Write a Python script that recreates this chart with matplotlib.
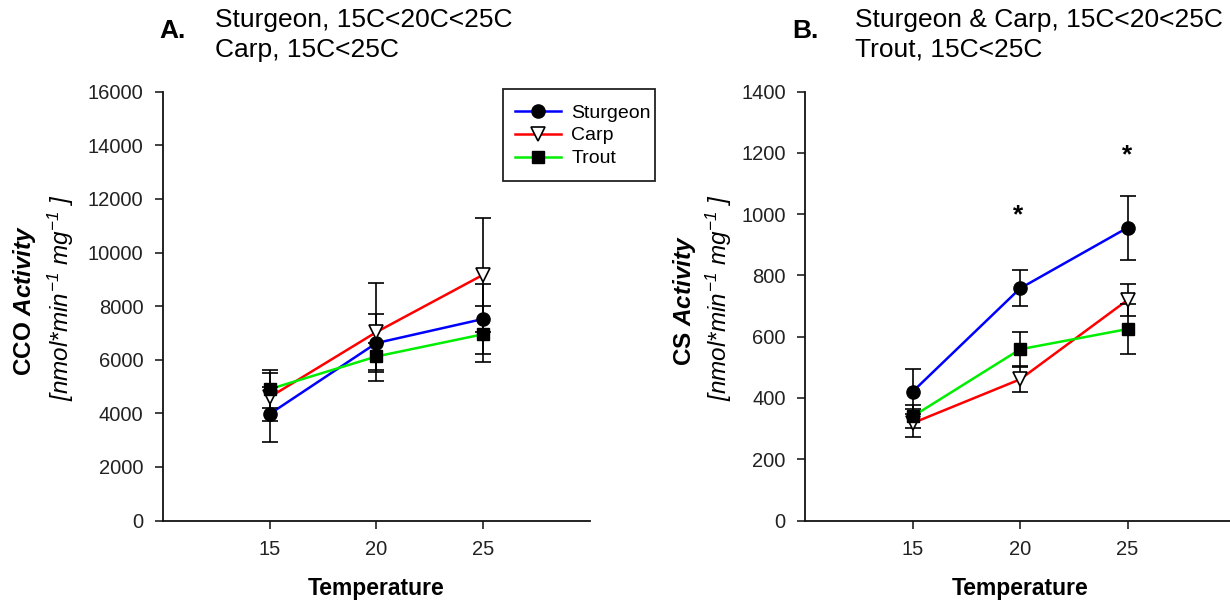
import matplotlib
matplotlib.use("Agg")
import matplotlib.pyplot as plt
from matplotlib.lines import Line2D
from matplotlib.patches import Rectangle

plt.rcParams['font.family'] = ['Liberation Sans', 'DejaVu Sans']
plt.rcParams['mathtext.fontset'] = 'custom'
plt.rcParams['mathtext.rm'] = 'Liberation Sans:italic'
plt.rcParams['mathtext.it'] = 'Liberation Sans:italic'
plt.rcParams['mathtext.bf'] = 'Liberation Sans:bold'
plt.rcParams['mathtext.bfit'] = 'Liberation Sans:italic:bold'

temperature = [15, 20, 25]
species = ['Sturgeon', 'Carp', 'Trout']

# CCO activity (mean, SE)
cco_sturgeon = [3970, 6620, 7520]
cco_sturgeon_err = [1030, 1080, 1300]
cco_carp = [4600, 7030, 9170]
cco_carp_err = [900, 1830, 2130]
cco_trout = [4900, 6120, 6950]
cco_trout_err = [700, 500, 1040]

# CS activity (mean, SE)
cs_sturgeon = [421, 758, 956]
cs_sturgeon_err = [73, 59, 105]
cs_carp = [318, 461, 720]
cs_carp_err = [47, 42, 53]
cs_trout = [340, 559, 625]
cs_trout_err = [38, 57, 81]

# significance markers on panel B
star_x = [19.9, 25]
star_y = [997, 1193]

colors = {'Sturgeon': '#0000ff', 'Carp': '#ff0000', 'Trout': '#00ee00'}
markers = {'Sturgeon': dict(marker='o', ms=9.5, mfc='black', mec='black'),
           'Carp': dict(marker='v', ms=10, mfc='white', mec='black', mew=1.2),
           'Trout': dict(marker='s', ms=9, mfc='black', mec='black')}

fig = plt.figure(figsize=(12.3, 6.04), dpi=100)
W, H = 1230.0, 604.0


def style_axes(ax, ymax, ystep):
    ax.set_xlim(10, 30)
    ax.set_ylim(0, ymax)
    ax.set_xticks(temperature)
    ax.set_yticks(range(0, ymax + 1, ystep))
    for s in ('top', 'right'):
        ax.spines[s].set_visible(False)
    for s in ('left', 'bottom'):
        ax.spines[s].set_linewidth(1.3)
        ax.spines[s].set_color('#111111')
    ax.tick_params(direction='out', length=6, width=1.3, color='#333333',
                   labelsize=14.5, labelcolor='#222222', pad=8)
    ax.set_xlabel('Temperature', fontsize=16.5, fontweight='bold', labelpad=13)


def draw_series(ax, data):
    for name, (vals, errs) in zip(species, data):
        ax.errorbar(temperature, vals, yerr=errs, fmt='none', ecolor='black',
                    elinewidth=1.2, capsize=6, capthick=1.2, zorder=3)
    for name, (vals, errs) in zip(species, data):
        ax.plot(temperature, vals, color=colors[name], lw=1.8, zorder=2)
        ax.plot(temperature, vals, ls='none', zorder=4, **markers[name])


axA = fig.add_axes([162.7 / W, (H - 520.5) / H, (590 - 162.7) / W, (520.5 - 91.7) / H])
style_axes(axA, 16000, 2000)
draw_series(axA, [(cco_sturgeon, cco_sturgeon_err), (cco_carp, cco_carp_err),
                  (cco_trout, cco_trout_err)])

axB = fig.add_axes([805.3 / W, (H - 520.5) / H, (1235 - 805.3) / W, (520.5 - 91.7) / H])
style_axes(axB, 1400, 200)
draw_series(axB, [(cs_sturgeon, cs_sturgeon_err), (cs_carp, cs_carp_err),
                  (cs_trout, cs_trout_err)])
for x, y in zip(star_x, star_y):
    axB.text(x, y, '*', ha='center', va='center', fontsize=19, fontweight='bold')

# y-axis labels (two lines each)
unit_label = r'$[nmol{*}min^{-1}\ mg^{-1}\ ]$'
fig.text(25 / W, 1 - 300 / H, r'$\mathbf{CCO}\ \mathbfit{Activity}$', rotation=90,
         ha='center', va='center', fontsize=17.5)
fig.text(61 / W, 1 - 298 / H, unit_label, rotation=90,
         ha='center', va='center', fontsize=17.5)
fig.text(684 / W, 1 - 300 / H, r'$\mathbf{CS}\ \mathbfit{Activity}$', rotation=90,
         ha='center', va='center', fontsize=17.5)
fig.text(719 / W, 1 - 298 / H, unit_label, rotation=90,
         ha='center', va='center', fontsize=17.5)

# panel headings
fig.text(159 / W, 1 - 31 / H, 'A.', fontsize=19, fontweight='bold', va='center')
fig.text(215 / W, 1 - 20 / H, 'Sturgeon, 15C<20C<25C', fontsize=19, va='center')
fig.text(215 / W, 1 - 50 / H, 'Carp, 15C<25C', fontsize=19, va='center')
fig.text(792 / W, 1 - 31 / H, 'B.', fontsize=19, fontweight='bold', va='center')
fig.text(855 / W, 1 - 20 / H, 'Sturgeon & Carp, 15C<20<25C', fontsize=19, va='center')
fig.text(855 / W, 1 - 50 / H, 'Trout, 15C<25C', fontsize=19, va='center')

# legend: entries without frame, plus a separate box
handles = [Line2D([0], [0], color=colors[n], lw=1.8, **markers[n]) for n in species]
leg = fig.legend(handles, species, loc='upper left',
                 bbox_to_anchor=(515 / W, 1 - 104 / H), borderaxespad=0,
                 borderpad=0, fontsize=14, handlelength=2.35, handletextpad=0.55,
                 labelspacing=0.27, frameon=False)
leg.set_zorder(10)
fig.patches.append(Rectangle((503 / W, 1 - 181 / H), (655 - 503) / W, (181 - 89) / H,
                             transform=fig.transFigure, fill=False,
                             edgecolor='#222222', linewidth=1.3, zorder=9))

fig.savefig('out.png', dpi=100)
